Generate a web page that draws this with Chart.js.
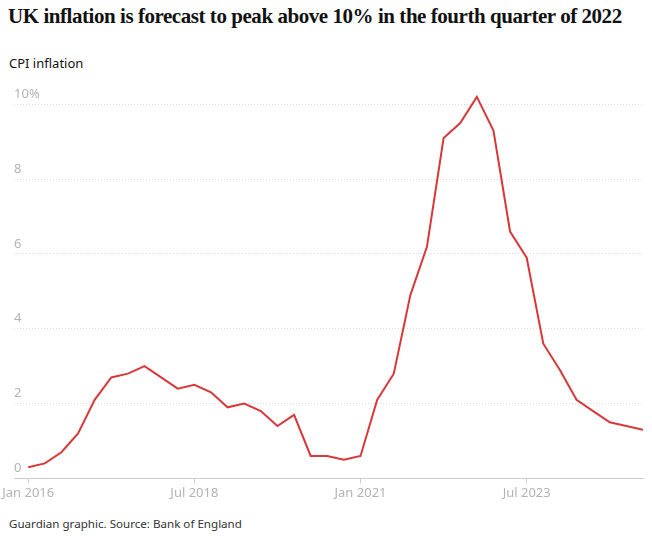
<!DOCTYPE html>
<html lang="en">
<head>
    <meta charset="UTF-8">
    <title>UK inflation forecast</title>
    <script src="https://cdn.jsdelivr.net/npm/chart.js"></script>
    <style>
        body {
            margin: 0;
            width: 652px;
            height: 536px;
            background: #fff;
            position: relative;
            overflow: hidden;
        }
        h1 {
            position: absolute;
            left: 8px;
            top: 4px;
            margin: 0;
            font-family: "Liberation Serif", serif;
            font-weight: bold;
            font-size: 21px;
            color: #121212;
            white-space: nowrap;
            letter-spacing: -0.45px;
        }
        .sub {
            position: absolute;
            left: 9px;
            top: 54px;
            font-family: "Noto Sans", sans-serif;
            font-size: 13px;
            color: #121212;
        }
        .foot {
            position: absolute;
            left: 9px;
            top: 516px;
            font-family: "Noto Sans", sans-serif;
            font-size: 11.6px;
            color: #333;
        }
        #wrap {
            position: absolute;
            left: 0;
            top: 80px;
            width: 652px;
            height: 423px;
        }
    </style>
</head>
<body>
    <h1>UK inflation is forecast to peak above 10% in the fourth quarter of 2022</h1>
    <div class="sub">CPI inflation</div>
    <div id="wrap"><canvas id="grafica"></canvas></div>
    <div class="foot">Guardian graphic. Source: Bank of England</div>

    <script>
        // quarterly CPI, Q1 2016 .. Q2 2025 (forecast after 2022)
        const quarters = [];
        for (let y = 2016; y <= 2025; y++) {
            ["Jan", "Apr", "Jul", "Oct"].forEach(m => quarters.push(m + " " + y));
        }
        const cpi = [0.3, 0.4, 0.7, 1.2, 2.1, 2.7, 2.8, 3.0, 2.7, 2.4,
                     2.5, 2.3, 1.9, 2.0, 1.8, 1.4, 1.7, 0.6, 0.6, 0.5,
                     0.6, 2.1, 2.8, 4.9, 6.2, 9.1, 9.5, 10.2, 9.3, 6.6,
                     5.9, 3.6, 2.9, 2.1, 1.8, 1.5, 1.4, 1.3];
        const xTicks = [0, 10, 20, 30];
        const yTicks = [0, 2, 4, 6, 8, 10];

        const points = cpi.map((v, i) => ({ x: i, y: v }));
        const tickFont = { family: "Noto Sans", size: 13 };

        new Chart(document.getElementById("grafica"), {
            type: "line",
            data: {
                datasets: [{
                    data: points,
                    borderColor: "#d7393a",
                    borderWidth: 2,
                    pointRadius: 0,
                    tension: 0,
                    fill: false
                }]
            },
            options: {
                responsive: true,
                maintainAspectRatio: false,
                animation: false,
                layout: { padding: { left: 9, right: 9, top: 15, bottom: 0 } },
                plugins: { legend: { display: false }, tooltip: { enabled: false } },
                scales: {
                    x: {
                        type: "linear",
                        min: -0.85,
                        max: 37,
                        afterBuildTicks: s => { s.ticks = xTicks.map(v => ({ value: v })); },
                        ticks: {
                            color: "#b3b3b3",
                            font: tickFont,
                            padding: 2,
                            maxRotation: 0,
                            autoSkip: false,
                            callback: v => quarters[v]
                        },
                        grid: {
                            drawOnChartArea: false,
                            tickLength: 5,
                            tickColor: "#cccccc"
                        },
                        border: { color: "#cccccc", width: 1 }
                    },
                    y: {
                        min: 0,
                        max: 10.25,
                        afterBuildTicks: s => { s.ticks = yTicks.map(v => ({ value: v })); },
                        ticks: {
                            mirror: true,
                            padding: 0,
                            labelOffset: -10,
                            color: "#b3b3b3",
                            font: tickFont,
                            callback: v => v === 10 ? "10%" : v
                        },
                        grid: { color: "#dddddd", drawTicks: false },
                        border: { display: false, dash: [1, 2] }
                    }
                }
            }
        });
    </script>
</body>
</html>
